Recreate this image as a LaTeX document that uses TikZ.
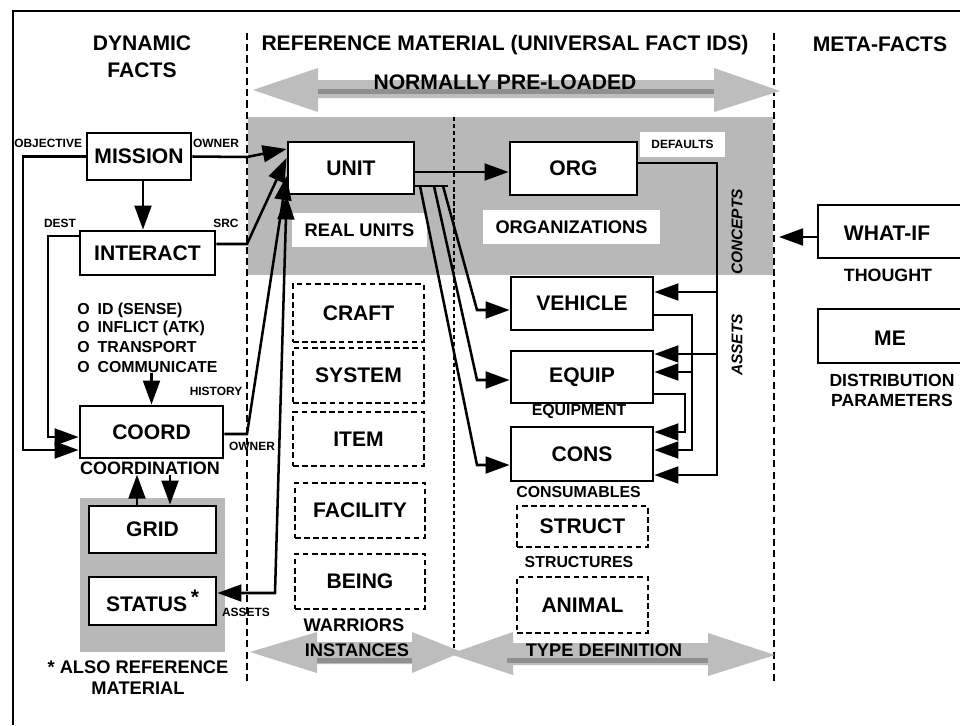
\documentclass[tikz,border=0pt]{standalone}
\usepackage{fontspec}
\setmainfont{Liberation Sans}
\usetikzlibrary{arrows.meta}
\definecolor{htgray}{gray}{0.72}
\definecolor{arrgray}{gray}{0.74}
\definecolor{darkband}{gray}{0.56}
\begin{document}
\begin{tikzpicture}[x=0.25mm,y=-0.25mm,
 hdr/.style={font=\fontsize{15}{19}\selectfont\bfseries, align=center, inner sep=0pt},
 mid/.style={font=\fontsize{13}{15}\selectfont\bfseries, align=center, inner sep=0pt},
 sub/.style={font=\fontsize{11.3}{13}\selectfont\bfseries, align=center, inner sep=0pt},
 lst/.style={font=\fontsize{11.3}{13}\selectfont\bfseries, anchor=west, inner sep=0pt},
 tiny/.style={font=\fontsize{8.5}{10}\selectfont\bfseries, inner sep=0pt},
 rot/.style={font=\fontsize{11}{13}\selectfont\bfseries\itshape, inner sep=0pt, rotate=90},
 box/.style={draw, line width=2pt, fill=white, inner sep=0pt, font=\fontsize{15}{18}\selectfont\bfseries},
 dbox/.style={draw, dash pattern=on 4pt off 2.5pt, line width=0.8pt, inner sep=0pt, font=\fontsize{15}{18}\selectfont\bfseries},
 patch/.style={fill=white, inner sep=0pt, font=\fontsize{13}{15}\selectfont\bfseries},
 conn/.style={line width=1.8pt},
 arr/.style={conn, -{Triangle[length=6mm,width=4.2mm]}},
 darr/.style={conn, {Triangle[length=6mm,width=4.2mm]}-{Triangle[length=6mm,width=4.2mm]}},
 divider/.style={line width=0.8pt, dash pattern=on 5pt off 3pt},
]
\useasboundingbox (0,0) rectangle (960,725);
\clip (0,0) rectangle (960,725);
\fill[white] (0,0) rectangle (960,725);

% gray (halftone) regions
\fill[htgray] (248,117) rectangle (773,275);
\fill[htgray] (80,498) rectangle (225,652);

% white label patches in the gray region
\node[patch, minimum width=33.75mm, minimum height=8.5mm] (realunits) at (359.5,230) {REAL UNITS};
\node[patch, minimum width=44.25mm, minimum height=8.5mm] (orgs) at (571.5,227) {ORGANIZATIONS};
\node[patch, minimum width=21.25mm, minimum height=6.25mm, font=\fontsize{8.5}{10}\selectfont\bfseries] (defaults) at (682.5,144.5) {DEFAULTS};

% outer frame
\draw[line width=1.5pt] (13,725) -- (13,11) -- (960,11);

% dividers
\draw[divider] (247,33) -- (247,683);
\draw[divider] (774,33) -- (774,682);
\draw[line width=0.8pt, dash pattern=on 3pt off 2pt] (454,117) -- (454,650);

% big gray double arrows
\fill[arrgray] (253,90) -- (318,68) -- (318,80) -- (714,80) -- (714,68) -- (780,91) -- (714,112) -- (714,98) -- (318,98) -- (318,112) -- cycle;
\fill[darkband] (318,89) rectangle (714,94);
\fill[arrgray] (250,652) -- (317,632) -- (317,642) -- (412,642) -- (412,632) -- (462,652) -- (412,673) -- (412,664) -- (317,664) -- (317,673) -- cycle;
\fill[arrgray] (450,654) -- (513,632) -- (513,643) -- (708,643) -- (708,633) -- (775,655) -- (708,676) -- (708,665) -- (513,665) -- (513,675) -- cycle;
\fill[darkband] (317,658) rectangle (412,663);
\fill[darkband] (507,658) rectangle (708,663);

% headers
\node[hdr] (hdyn) at (142,57) {DYNAMIC\\FACTS};
\node[hdr] (href) at (505,45) {REFERENCE MATERIAL (UNIVERSAL FACT IDS)};
\node[hdr] (hmeta) at (880,44) {META-FACTS};
\node[hdr] (preload) at (505,82) {NORMALLY PRE-LOADED};

% solid boxes
\node[box, minimum width=26mm, minimum height=11.75mm] (MISSION) at (139,156.5) {MISSION};
\node[box, minimum width=33.75mm, minimum height=11mm] (INTERACT) at (147.5,253) {INTERACT};
\node[box, minimum width=35.75mm, minimum height=13mm] (COORD) at (151.5,432) {COORD};
\node[box, minimum width=31.75mm, minimum height=11.75mm] (GRID) at (152.5,529.5) {GRID};
\node[box, minimum width=31.75mm, minimum height=12mm] (STATUS) at (152.5,601) {STATUS\,\raisebox{0.6ex}{*}};
\node[box, minimum width=31.5mm, minimum height=13mm] (UNIT) at (351,168) {UNIT};
\node[box, minimum width=31.75mm, minimum height=13.25mm] (ORG) at (573.5,168.5) {ORG};
\node[box, minimum width=35.5mm, minimum height=13.25mm] (VEHICLE) at (582,303.5) {VEHICLE};
\node[box, minimum width=35.5mm, minimum height=13mm] (EQUIP) at (582,377) {EQUIP};
\node[box, minimum width=35.5mm, minimum height=13.5mm] (CONS) at (582,454) {CONS};
\node[box, minimum width=45.5mm, minimum height=13.25mm] (WHATIF) at (909,231.5) {};
\node[box, minimum width=45.5mm, minimum height=13.5mm] (ME) at (909,336) {};
\node[hdr] (whatiflbl) at (887,233) {WHAT-IF};
\node[hdr] (melbl) at (890,338) {ME};

% dashed boxes
\node[dbox, minimum width=32.75mm, minimum height=14.5mm] (CRAFT) at (358.5,313) {CRAFT};
\node[dbox, minimum width=32.75mm, minimum height=13.75mm] (SYSTEM) at (358.5,375.5) {SYSTEM};
\node[dbox, minimum width=32.75mm, minimum height=13.5mm] (ITEM) at (358.5,439) {ITEM};
\node[dbox, minimum width=32.5mm, minimum height=13.75mm] (FACILITY) at (360,510.5) {FACILITY};
\node[dbox, minimum width=32.5mm, minimum height=13.75mm] (BEING) at (360,581.5) {BEING};
\node[dbox, minimum width=32.75mm, minimum height=10.25mm] (STRUCT) at (582.5,526.5) {STRUCT};
\node[dbox, minimum width=32.75mm, minimum height=14mm] (ANIMAL) at (582.5,605) {ANIMAL};

% list of interactions
\node[lst] (l1) at (77,310) {O\hspace{2mm}ID (SENSE)};
\node[lst] (l2) at (77,328) {O\hspace{2mm}INFLICT (ATK)};
\node[lst] (l3) at (77,347) {O\hspace{2mm}TRANSPORT};
\node[lst] (l4) at (77,367) {O\hspace{2mm}COMMUNICATE};

% small labels
\node[tiny, anchor=west] (objective) at (14,143) {OBJECTIVE};
\node[tiny] (owner1) at (216,143) {OWNER};
\node[tiny] (dest) at (60,223) {DEST};
\node[tiny] (src) at (226,223) {SRC};
\node[tiny] (history) at (216,391) {HISTORY};
\node[tiny] (owner2) at (252,446) {OWNER};
\node[tiny] (assets1) at (246,612) {ASSETS};
\node[sub, font=\fontsize{12.8}{14}\selectfont\bfseries] (coordlbl) at (150,468) {COORDINATION};
\node[sub] (equiplbl) at (579,412) {EQUIPMENT};
\node[sub] (conslbl) at (578.5,492) {CONSUMABLES};
\node[sub] (structlbl) at (579,562) {STRUCTURES};
\node[mid] (warriors) at (354,625) {WARRIORS};
\node[mid] (instances) at (357,650) {INSTANCES};
\node[mid] (typedef) at (604,650) {TYPE DEFINITION};
\node[mid] (alsoref) at (138,677.5) {* ALSO REFERENCE\\MATERIAL};
\node[sub, font=\fontsize{12.7}{14}\selectfont\bfseries] (thought) at (888,275) {THOUGHT};
\node[sub, font=\fontsize{12.5}{14.3}\selectfont\bfseries] (distparam) at (892,390) {DISTRIBUTION\\PARAMETERS};
\node[rot] (concepts) at (737,232) {CONCEPTS};
\node[rot] (assets2) at (737,345) {ASSETS};

% connectors: dynamic facts
\draw[arr] (MISSION.south -| 143,0) -- (INTERACT.north -| 143,0);
\draw[arr] (MISSION.west) -- (23,156.5) -- (23,450) -- (COORD.west |- 0,450);
\draw[arr] (INTERACT.west |- 0,236) -- (48,236) -- (48,437) -- (COORD.west |- 0,437);
\draw[arr] (COORD.north |- l4.south) -- (COORD.north);
\draw[arr] (GRID.north -| 137,0) -- (coordlbl.south -| 137,0);
\draw[arr] (coordlbl.south -| 170,0) -- (GRID.north -| 170,0);

% connectors into UNIT
\draw[arr] (MISSION.east) -- (247,157) -- (UNIT.west |- 0,149);
\draw[arr] (INTERACT.east |- 0,244) -- (247,244) -- (UNIT.west |- 0,158);
\draw[arr] (COORD.east |- 0,434) -- (247,434) -- (UNIT.west |- 0,176);
\draw[darr] (STATUS.east |- 0,593) -- (275,593) -- (UNIT.south west);

% connectors from UNIT
\draw[arr] (UNIT.east |- 0,172) -- (ORG.west |- 0,172);
\draw[conn] (UNIT.east |- 0,186) -- (448,186);
\draw[arr] (420,186) -- (477,465) -- (CONS.west |- 0,465);
\draw[arr] (434,186) -- (477,380) -- (EQUIP.west |- 0,380);
\draw[arr] (443,186) -- (477,310) -- (VEHICLE.west |- 0,310);

% defaults from ORG
\draw[arr] (ORG.east |- 0,163) -- (717,163) -- (717,475) -- (CONS.east |- 0,475);
\draw[arr] (717,292) -- (VEHICLE.east |- 0,292);
\draw[arr] (717,354) -- (EQUIP.east |- 0,354);
\draw[arr] (VEHICLE.east |- 0,315) -- (692,315) -- (692,450) -- (CONS.east |- 0,450);
\draw[arr] (692,372) -- (EQUIP.east |- 0,372);
\draw[arr] (EQUIP.east |- 0,394) -- (685,394) -- (685,432) -- (CONS.east |- 0,432);

% meta-facts
\draw[arr] (WHATIF.west |- 0,237) -- (779,237);
\end{tikzpicture}
\end{document}
